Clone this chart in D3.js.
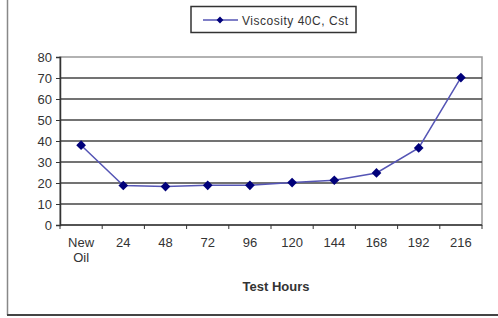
<!DOCTYPE html>
<html lang="en">
  <head>
    <meta charset="UTF-8">
    <script src="https://d3js.org/d3.v7.min.js"></script>
    <title>Viscosity 40C</title>
    <style>
      body { margin: 0; background: #fff; }
      text { font-family: "Liberation Sans", Arial, sans-serif; }
    </style>
  </head>
  <body>
    <div id="chart"></div>
    <script>
      const categories = ["New Oil", "24", "48", "72", "96", "120", "144", "168", "192", "216"];
      const viscosity = [38, 18.8, 18.3, 18.9, 18.9, 20.2, 21.3, 24.8, 36.7, 70.2];
      const yTicks = [0, 10, 20, 30, 40, 50, 60, 70, 80];
      const seriesName = "Viscosity 40C, Cst";

      const width = 498, height = 318;
      const plotLeft = 60, plotRight = 482, plotTop = 57, plotBottom = 225;

      const svg = d3.select("#chart").append("svg")
        .attr("width", width).attr("height", height);

      // outer frame
      svg.append("line").attr("x1", 7.5).attr("x2", 7.5).attr("y1", 0).attr("y2", 315)
        .attr("stroke", "#888").attr("stroke-width", 1.5);
      svg.append("line").attr("x1", 7).attr("x2", width).attr("y1", 315).attr("y2", 315)
        .attr("stroke", "#444").attr("stroke-width", 2);

      const x = d3.scaleBand().domain(categories).range([plotLeft, plotRight]);
      const y = d3.scaleLinear().domain([0, 80]).range([plotBottom, plotTop]);

      // plot border
      svg.append("rect").attr("x", plotLeft).attr("y", plotTop)
        .attr("width", plotRight - plotLeft).attr("height", plotBottom - plotTop)
        .attr("fill", "none").attr("stroke", "#999").attr("stroke-width", 1.5);

      // gridlines
      svg.append("g").selectAll("line").data(yTicks.filter(d => d > 0 && d < 80)).join("line")
        .attr("x1", plotLeft).attr("x2", plotRight)
        .attr("y1", d => y(d)).attr("y2", d => y(d))
        .attr("stroke", "#444").attr("stroke-width", 1.5);

      // y axis
      const yAxis = svg.append("g").attr("transform", `translate(${plotLeft},0)`)
        .call(d3.axisLeft(y).tickValues(yTicks).tickSize(4).tickPadding(4));
      yAxis.select(".domain").attr("stroke", "#333").attr("stroke-width", 1.5);
      yAxis.selectAll(".tick line").attr("stroke", "#333");
      yAxis.selectAll("text").attr("font-size", 13).attr("fill", "#333")
        .style("font-family", "Liberation Sans, Arial, sans-serif");

      // x axis
      const xAxis = svg.append("g").attr("transform", `translate(0,${plotBottom})`);
      xAxis.append("line").attr("x1", plotLeft).attr("x2", plotRight).attr("y1", 0).attr("y2", 0)
        .attr("stroke", "#333").attr("stroke-width", 1.5);
      const bounds = categories.map(c => x(c)).concat([plotRight]);
      xAxis.selectAll(".tk").data(bounds).join("line").attr("class", "tk")
        .attr("x1", d => d).attr("x2", d => d).attr("y1", 0).attr("y2", 4)
        .attr("stroke", "#333");
      const lbl = xAxis.selectAll(".lbl").data(categories).join("text").attr("class", "lbl")
        .attr("x", d => x(d) + x.bandwidth() / 2).attr("y", 22)
        .attr("text-anchor", "middle").attr("font-size", 13).attr("fill", "#333");
      lbl.each(function(d) {
        const parts = d.split(" ");
        d3.select(this).selectAll("tspan").data(parts).join("tspan")
          .attr("x", x(d) + x.bandwidth() / 2)
          .attr("dy", (p, i) => i === 0 ? 0 : 15)
          .text(p => p);
      });

      svg.append("text").attr("x", 276).attr("y", 291).attr("text-anchor", "middle")
        .attr("font-size", 13).attr("font-weight", "bold").attr("fill", "#333")
        .text("Test Hours");

      // series
      const pts = categories.map((c, i) => [x(c) + x.bandwidth() / 2, y(viscosity[i])]);
      svg.append("path").attr("d", d3.line()(pts))
        .attr("fill", "none").attr("stroke", "#5555b5").attr("stroke-width", 1.5);
      const diamond = d3.symbol().type(d3.symbolDiamond2).size(60);
      svg.append("g").selectAll("path").data(pts).join("path")
        .attr("transform", d => `translate(${d[0]},${d[1]})`)
        .attr("d", diamond).attr("fill", "#00007a");

      // legend
      const lg = svg.append("g");
      lg.append("rect").attr("x", 191).attr("y", 6.5).attr("width", 165).attr("height", 26)
        .attr("fill", "#fff").attr("stroke", "#333").attr("stroke-width", 1.5);
      lg.append("line").attr("x1", 203).attr("x2", 238).attr("y1", 20).attr("y2", 20)
        .attr("stroke", "#5555b5").attr("stroke-width", 1.5);
      lg.append("path").attr("transform", "translate(220,20)")
        .attr("d", d3.symbol().type(d3.symbolDiamond2).size(30)).attr("fill", "#00007a");
      lg.append("text").attr("x", 242).attr("y", 24.5).attr("font-size", 12)
        .attr("textLength", 106).attr("fill", "#333")
        .text(seriesName);
    </script>
  </body>
</html>
